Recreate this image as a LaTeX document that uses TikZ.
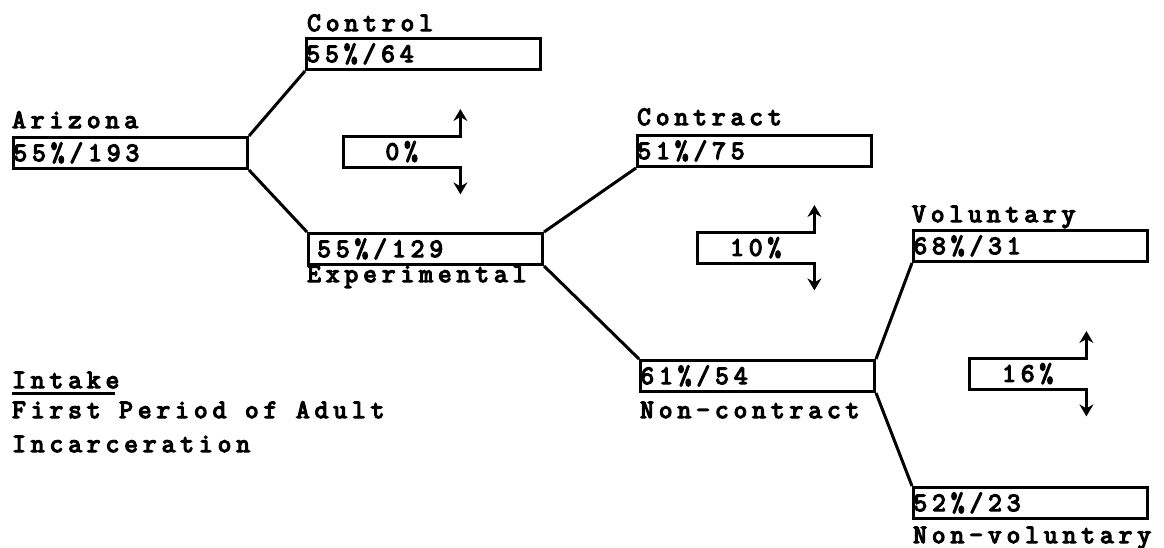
\documentclass[tikz,border=0pt]{standalone}
\usepackage{fontspec}
\newfontfamily\typed[LetterSpace=19,FakeBold=5]{Latin Modern Mono}
\usetikzlibrary{calc,arrows.meta}
\tikzset{
  tfont/.style={font=\typed\fontsize{26.5}{26.5}\selectfont},
  tbox/.style={tfont,draw,line width=3pt,anchor=north west,minimum width=234pt,
    minimum height=31pt,inner sep=0pt,text width=234pt,align=left,
    text height=16pt,text depth=0pt},
  tlbl/.style={tfont,anchor=base west,inner sep=0pt},
  tsplit/.style={tfont,anchor=north west,minimum width=117pt,minimum height=31pt,
    inner sep=0pt,text height=16pt,text depth=0pt},
  tline/.style={line width=3pt},
  tarrows/.style={{Stealth[length=12pt,width=14pt,inset=4pt]}-{Stealth[length=12pt,width=14pt,inset=4pt]}},
}
\begin{document}
\begin{tikzpicture}[x=1pt,y=-1pt]
  \useasboundingbox (0,0) rectangle (1164,547);
  \node[tbox] (arizona) at (12,136) {55\%/193};
  \node[tbox] (control) at (305,37) {55\%/64};
  \node[tbox] (experimental) at (307,232) {\ 55\%/129};
  \node[tbox] (contract) at (636,134) {51\%/75};
  \node[tbox] (noncontract) at (639,359) {61\%/54};
  \node[tbox] (voluntary) at (912,229) {68\%/31};
  \node[tbox] (nonvoluntary) at (912,486) {52\%/23};
  \node[tlbl] (arizonalbl) at (12,128) {Arizona};
  \node[tlbl] (controllbl) at (307,31) {Control};
  \node[tlbl] (experimentallbl) at (307,282) {Experimental};
  \node[tlbl] (contractlbl) at (637,125) {Contract};
  \node[tlbl] (noncontractlbl) at (640,418) {Non-contract};
  \node[tlbl] (voluntarylbl) at (912,222) {Voluntary};
  \node[tlbl] (nonvoluntarylbl) at (913,543) {Non-voluntary};
  \node[tlbl,text depth=5pt] (intake) at (12,388) {Intake};
  \node[tlbl] (first) at (12,418) {First Period of Adult};
  \node[tlbl] (incarceration) at (12,452) {Incarceration};
  \draw[tline] (intake.south west) -- ([xshift=-4pt]intake.south east);
  \draw[tline] (arizona.north east) -- (control.south west);
  \draw[tline] (arizona.south east) -- (experimental.north west);
  \draw[tline] (experimental.north east) -- (contract.south west);
  \draw[tline] (experimental.south east) -- (noncontract.north west);
  \draw[tline] (noncontract.north east) -- (voluntary.south west);
  \draw[tline] (noncontract.south east) -- (nonvoluntary.north west);
  \foreach \n/\x/\y/\v in {zero/343/136/0,ten/697/232/10,sixteen/969/358/16} {
    \node[tsplit] (\n) at (\x,\y) {\v\%};
    \draw[tline,tarrows] ($(\n.north east)+(0,-27)$) -- (\n.north east) -- (\n.north west)
      -- (\n.south west) -- (\n.south east) -- ++(0,27);
  }
\end{tikzpicture}
\end{document}
